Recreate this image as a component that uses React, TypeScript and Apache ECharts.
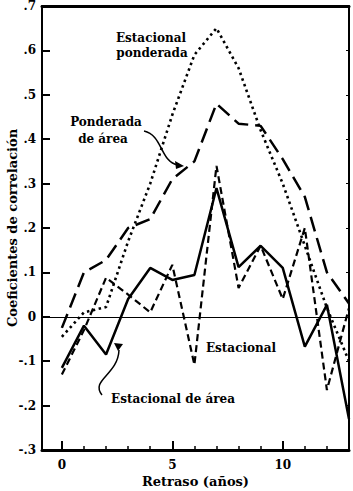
import React, { useEffect, useRef } from "react";
import * as echarts from "echarts";

const lags = [0, 1, 2, 3, 4, 5, 6, 7, 8, 9, 10, 11, 12, 13];
const estacional = [-0.115, -0.02, -0.085, 0.04, 0.11, 0.083, 0.094, 0.29, 0.112, 0.16, 0.11, -0.067, 0.027, -0.23];
const estacionalArea = [-0.13, -0.03, 0.088, 0.05, 0.01, 0.117, -0.108, 0.34, 0.065, 0.16, 0.04, 0.2, -0.165, 0.02];
const estacionalPonderada = [-0.045, 0.01, 0.022, 0.17, 0.3, 0.455, 0.59, 0.65, 0.56, 0.42, 0.3, 0.16, 0.02, -0.1];
const ponderadaArea = [-0.025, 0.1, 0.128, 0.2, 0.22, 0.31, 0.35, 0.48, 0.435, 0.43, 0.355, 0.27, 0.1, 0.03];
const xLabelValues = [0, 5, 10];

const FONT = "DejaVu Serif";

const pairs = (vals: number[]) => lags.map((l, i) => [l, vals[i]]);

export default function App() {
  const ref = useRef<HTMLDivElement>(null);
  useEffect(() => {
    if (!ref.current) return;
    const chart = echarts.init(ref.current, null, { renderer: "svg" });
    const lineSeries = (name: string, vals: number[], type: any, width: number, extra: any = {}) => ({
      name,
      type: "line",
      data: pairs(vals),
      symbol: "none",
      xAxisIndex: 0,
      yAxisIndex: 0,
      lineStyle: { color: "#000", width, type },
      ...(extra.rest || {}),
    });
    const textStyle = (text: string, x: number, y: number, align = "center") => ({
      type: "text",
      x,
      y,
      style: {
        text,
        fill: "#000",
        font: `bold 12px "${FONT}"`,
        align,
        verticalAlign: "middle",
      },
    });
    const frameLine = (w: number) => ({ show: true, onZero: false, lineStyle: { color: "#000", width: w } });
    chart.setOption({
      animation: false,
      backgroundColor: "#fff",
      grid: {
        left: 42,
        right: 4,
        top: 6,
        bottom: 41,
        show: false,
        containLabel: false,
        outerBoundsMode: "none",
      },
      xAxis: [
        {
          type: "value",
          min: -0.9,
          max: 13,
          position: "bottom",
          axisLine: frameLine(3),
          splitLine: { show: false },
          axisTick: { show: true, inside: true, length: 9, customValues: xLabelValues, lineStyle: { color: "#000", width: 2 } },
          axisLabel: {
            customValues: xLabelValues,
            margin: 9,
            color: "#000",
            fontFamily: FONT,
            fontSize: 12,
            fontWeight: "bold",
          },
          name: "Retraso (años)",
          nameLocation: "middle",
          nameGap: 25,
          nameMoveOverlap: false,
          nameTextStyle: { color: "#000", fontFamily: FONT, fontSize: 13, fontWeight: "bold" },
        },
        {
          type: "value",
          min: -0.9,
          max: 13,
          position: "bottom",
          axisLine: { show: false, onZero: false },
          splitLine: { show: false },
          axisTick: { show: true, inside: true, length: 4, customValues: lags, lineStyle: { color: "#000", width: 1.5 } },
          axisLabel: { show: false, customValues: lags },
        },
        {
          type: "value",
          min: -0.9,
          max: 13,
          position: "top",
          axisLine: frameLine(3),
          splitLine: { show: false },
          axisTick: { show: false },
          axisLabel: { show: false },
        },
      ],
      yAxis: [
        {
          type: "value",
          min: -0.3,
          max: 0.7,
          interval: 0.1,
          position: "left",
          axisLine: frameLine(2),
          splitLine: { show: false },
          axisTick: { show: true, inside: true, length: 8, lineStyle: { color: "#000", width: 2 } },
          axisLabel: {
            margin: 6,
            color: "#000",
            fontFamily: FONT,
            fontSize: 12,
            fontWeight: "bold",
            formatter: (v: number) => {
              const r = Math.round(v * 10);
              if (r === 0) return "0";
              return (r < 0 ? "-" : "") + "." + Math.abs(r);
            },
          },
          name: "Coeficientes de correlación",
          nameLocation: "middle",
          nameRotate: 90,
          nameGap: 23,
          nameMoveOverlap: false,
          nameTextStyle: { color: "#000", fontFamily: FONT, fontSize: 13, fontWeight: "bold" },
        },
        {
          type: "value",
          min: -0.3,
          max: 0.7,
          interval: 0.1,
          position: "right",
          axisLine: frameLine(2),
          splitLine: { show: false },
          axisTick: { show: true, inside: true, length: 3, lineStyle: { color: "#000", width: 1 } },
          axisLabel: { show: false },
        },
      ],
      series: [
        lineSeries("Estacional", estacional, "solid", 2.5, {
          rest: {
            markLine: {
              silent: true,
              symbol: "none",
              label: { show: false },
              lineStyle: { color: "#000", width: 1.2, type: "solid" },
              data: [{ yAxis: 0 }],
            },
          },
        }),
        lineSeries("Estacional de área", estacionalArea, [7, 4], 2.2),
        lineSeries("Estacional ponderada", estacionalPonderada, [2.5, 3.5], 2.6),
        lineSeries("Ponderada de área", ponderadaArea, [15, 7], 2.5),
      ],
      graphic: [
        textStyle("Estacional", 151, 38),
        textStyle("ponderada", 152, 53),
        textStyle("Ponderada", 106, 122),
        textStyle("de área", 103, 139),
        textStyle("Estacional", 241, 348),
        textStyle("Estacional de área", 173, 399),
        {
          type: "bezierCurve",
          shape: { x1: 144, y1: 131, cpx1: 163, cpy1: 135, cpx2: 160, cpy2: 162, x2: 178, y2: 165 },
          style: { stroke: "#000", lineWidth: 1.5, fill: "none" },
        },
        {
          type: "polygon",
          shape: { points: [[184, 166], [175, 161], [176, 169]] },
          style: { fill: "#000" },
        },
        {
          type: "bezierCurve",
          shape: { x1: 102, y1: 395, cpx1: 90, cpy1: 380, cpx2: 118, cpy2: 375, x2: 119, y2: 350 },
          style: { stroke: "#000", lineWidth: 1.5, fill: "none" },
        },
        {
          type: "polygon",
          shape: { points: [[114, 343], [123, 344], [118, 351]] },
          style: { fill: "#000" },
        },
      ],
    });
    return () => chart.dispose();
  }, []);
  return (
    <div
      ref={ref}
      style={{ position: "fixed", left: 0, top: 0, width: 353, height: 491, background: "#fff" }}
    />
  );
}
